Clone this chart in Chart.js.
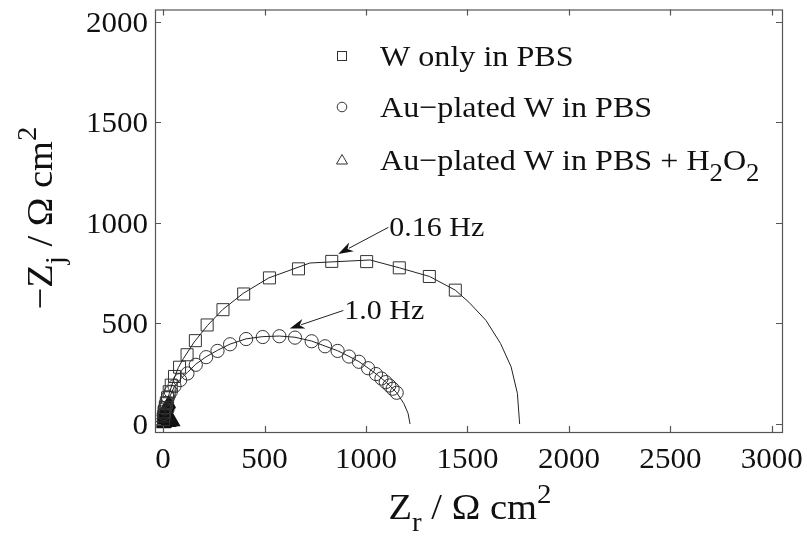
<!DOCTYPE html>
<html><head><meta charset="utf-8">
<script src="https://cdn.jsdelivr.net/npm/chart.js@4.4.0/dist/chart.umd.min.js"></script>
<style>html,body{margin:0;padding:0;background:#fff}</style>
</head><body>
<canvas id="c" width="807" height="537"></canvas>
<script>
const xTicks=[0,500,1000,1500,2000,2500,3000];
const yTicks=[0,500,1000,1500,2000];
const seriesNames=['W only in PBS','Au\u2212plated W in PBS','Au\u2212plated W in PBS + H'];

const wOnlyZr=[1440,1312,1164,1003,831,667,524,397,295,217,159,118,81,56,40,30,22,16,11,7,4,2];
const wOnlyZj=[665,733,776,807,808,771,726,646,568,492,414,344,282,236,193,160,130,105,82,60,40,22];

const auZr=[1151,1131,1115,1097,1076,1049,1010,965,916,860,798,732,650,573,491,409,330,268,212,161,120,84,56,38,24,14,7,3];
const auZj=[155,175,191,208,226,248,277,309,335,363,386,411,429,436,432,422,396,363,332,294,251,218,188,160,132,105,78,50];

const auH2O2Zr=[0,2,4,6,8,10,12,14,16,18,20,22,24,26,28,30,38,45,50,3,8,0,1,2];
const auH2O2Zj=[3,10,18,26,34,42,50,58,66,74,82,88,94,98,102,6,10,12,10,0,2,30,45,60];

const fitWZr=[0,5,15,30,50,75,100,153,219,294,396,521,723,1020,1165,1313,1440,1507,1591,1663,1715,1746,1757];
const fitWZj=[0,40,90,150,215,280,325,407,490,569,650,726,800,815,776,733,665,605,515,400,284,152,0];

const fitAuZr=[0,5,15,30,55,84,120,161,212,268,330,409,491,573,650,732,798,860,916,965,1010,1049,1076,1097,1115,1131,1151,1186,1207,1217];
const fitAuZj=[0,40,85,130,185,222,256,297,334,366,397,423,434,437,431,412,387,364,336,310,278,249,227,209,192,176,156,102,53,0];

const annotLabels=['0.16 Hz','1.0 Hz'];
const annotTip=[[863,845],[624,474]];
const annotTail=[[1110,977],[888,564]];

const pts=(a,b)=>a.map((v,i)=>({x:v,y:b[i]}));
const SX=1.07;
const FONT='"Liberation Serif", "Times New Roman", Times, serif';

function rich(ctx,segs,x,y,align){
  let w=0;
  segs.forEach(s=>{ctx.font=s.s+'px '+FONT;s.w=ctx.measureText(s.t).width*SX;w+=s.w;});
  let cx = align==='center'? x-w/2 : (align==='right'? x-w : x);
  segs.forEach(s=>{
    ctx.save();ctx.translate(cx,y+(s.dy||0));ctx.scale(SX,1);
    ctx.font=s.s+'px '+FONT;ctx.textAlign='left';ctx.textBaseline='alphabetic';ctx.fillStyle='#111';
    ctx.fillText(s.t,0,0);ctx.restore();cx+=s.w;
  });
}

const deco={
  id:'deco',
  afterDraw(chart){
    const ctx=chart.ctx, a=chart.chartArea, xs=chart.scales.x, ys=chart.scales.y;
    ctx.save();
    ctx.strokeStyle='#555';ctx.lineWidth=1.2;
    ctx.strokeRect(a.left+0.5,a.top+0.5,a.right-a.left,a.bottom-a.top);
    ctx.beginPath();
    const TL=6;
    xTicks.forEach(v=>{const p=Math.round(xs.getPixelForValue(v))+0.5;
      ctx.moveTo(p,a.bottom);ctx.lineTo(p,a.bottom-TL);ctx.moveTo(p,a.top);ctx.lineTo(p,a.top+TL);});
    yTicks.forEach(v=>{const p=Math.round(ys.getPixelForValue(v))+0.5;
      ctx.moveTo(a.left,p);ctx.lineTo(a.left+TL,p);ctx.moveTo(a.right,p);ctx.lineTo(a.right-TL,p);});
    ctx.stroke();
    xTicks.forEach(v=>rich(ctx,[{t:String(v),s:29}],xs.getPixelForValue(v),468,'center'));
    yTicks.forEach(v=>rich(ctx,[{t:String(v),s:29}],148,ys.getPixelForValue(v)+10,'right'));
    rich(ctx,[{t:'Z',s:36},{t:'r',s:27,dy:12},{t:' / \u03A9 cm',s:36},{t:'2',s:27,dy:-16}],470,519,'center');
    ctx.save();ctx.translate(52,218);ctx.rotate(-Math.PI/2);
    rich(ctx,[{t:'\u2212Z',s:36},{t:'j',s:27,dy:12},{t:' / \u03A9 cm',s:36},{t:'2',s:27,dy:-16}],0,0,'center');
    ctx.restore();
    ctx.strokeStyle='#333';ctx.lineWidth=1;
    const lx=342, rows=[56,107,160];
    ctx.strokeRect(lx-4.5,rows[0]-4.5,9,9);
    ctx.beginPath();ctx.arc(lx,rows[1],4.8,0,Math.PI*2);ctx.stroke();
    ctx.beginPath();ctx.moveTo(lx,rows[2]-5.5);ctx.lineTo(lx+5.5,rows[2]+4);ctx.lineTo(lx-5.5,rows[2]+4);ctx.closePath();ctx.stroke();
    rich(ctx,[{t:seriesNames[0],s:30}],380,rows[0]+10,'left');
    rich(ctx,[{t:seriesNames[1],s:30}],380,rows[1]+10,'left');
    rich(ctx,[{t:seriesNames[2],s:30},{t:'2',s:25,dy:11},{t:'O',s:30},{t:'2',s:25,dy:11}],380,rows[2]+10,'left');
    ctx.fillStyle='#111';ctx.strokeStyle='#222';ctx.lineWidth=1;
    annotLabels.forEach((lab,i)=>{
      const tx=xs.getPixelForValue(annotTip[i][0]), ty=ys.getPixelForValue(annotTip[i][1]);
      const sx=xs.getPixelForValue(annotTail[i][0]), sy=ys.getPixelForValue(annotTail[i][1]);
      const ang=Math.atan2(ty-sy,tx-sx), L=15, W=5;
      ctx.beginPath();ctx.moveTo(sx,sy);ctx.lineTo(tx-Math.cos(ang)*L*0.8,ty-Math.sin(ang)*L*0.8);ctx.stroke();
      ctx.beginPath();ctx.moveTo(tx,ty);
      ctx.lineTo(tx-Math.cos(ang)*L+Math.sin(ang)*W,ty-Math.sin(ang)*L-Math.cos(ang)*W);
      ctx.lineTo(tx-Math.cos(ang)*L*0.7,ty-Math.sin(ang)*L*0.7);
      ctx.lineTo(tx-Math.cos(ang)*L-Math.sin(ang)*W,ty-Math.sin(ang)*L+Math.cos(ang)*W);
      ctx.closePath();ctx.fill();
      rich(ctx,[{t:lab,s:28}],sx+1,sy+9,'left');
    });
    ctx.restore();
  }
};

new Chart(document.getElementById('c'),{
  type:'scatter',
  data:{datasets:[
    {label:'fitW',data:pts(fitWZr,fitWZj),showLine:true,borderColor:'#222',borderWidth:1,pointRadius:0,tension:0},
    {label:'fitAu',data:pts(fitAuZr,fitAuZj),showLine:true,borderColor:'#222',borderWidth:1,pointRadius:0,tension:0},
    {label:seriesNames[0],data:pts(wOnlyZr,wOnlyZj),pointStyle:'rect',pointRadius:8.5,borderColor:'#333',borderWidth:1,backgroundColor:'rgba(0,0,0,0)'},
    {label:seriesNames[1],data:pts(auZr,auZj),pointStyle:'circle',pointRadius:6.6,borderColor:'#333',borderWidth:1,backgroundColor:'rgba(0,0,0,0)'},
    {label:seriesNames[2]+'2O2',data:pts(auH2O2Zr,auH2O2Zj),pointStyle:'triangle',pointRadius:7,borderColor:'#111',borderWidth:1.5,backgroundColor:'#111'}
  ]},
  options:{
    responsive:false,devicePixelRatio:1,animation:false,
    layout:{padding:{left:0,right:25,top:8,bottom:0}},
    plugins:{legend:{display:false},tooltip:{enabled:false}},
    scales:{
      x:{type:'linear',min:-40,max:3050,grid:{display:false},border:{display:false},ticks:{display:false},
         afterBuildTicks:s=>{s.ticks=xTicks.map(v=>({value:v}));},afterFit:s=>{s.height=105;}},
      y:{type:'linear',min:-40,max:2060,grid:{display:false},border:{display:false},ticks:{display:false},
         afterBuildTicks:s=>{s.ticks=yTicks.map(v=>({value:v}));},afterFit:s=>{s.width=155;}}
    }
  },
  plugins:[deco]
});
</script>
</body></html>
